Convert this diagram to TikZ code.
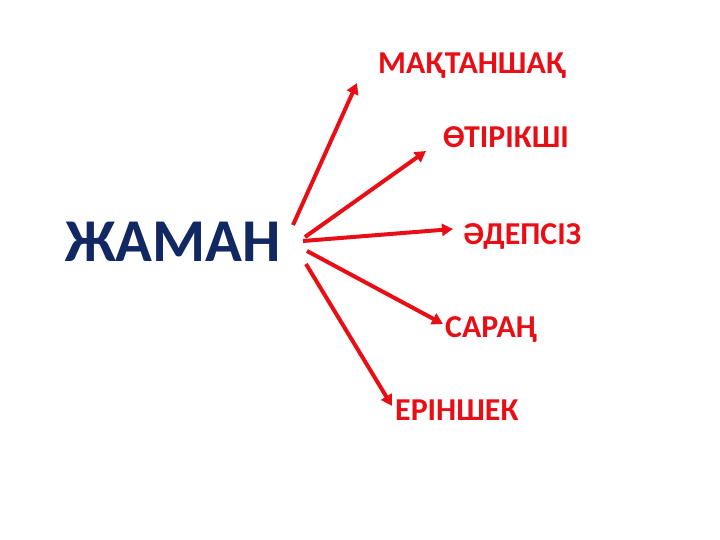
\documentclass[tikz,border=0pt]{standalone}
\usepackage{fontspec}
\setmainfont{Carlito}
\usetikzlibrary{arrows.meta}
\definecolor{zhred}{RGB}{232,14,22}
\definecolor{zhblue}{RGB}{18,40,98}
\tikzset{
  soz/.style={anchor=base west, inner sep=0pt, text=zhred,
    font=\bfseries\fontsize{32}{32}\selectfont},
  nusqa/.style={-{Triangle[length=11bp,width=12bp]}, line width=4bp, zhred}
}
\newcommand{\baga}[2]{
  \draw[nusqa] (#1)--(#2);
}
\begin{document}
\begin{tikzpicture}[x=1bp,y=-1bp]
  \useasboundingbox (0,0) rectangle (720,540);

  % Basty soz
  % =========
  \node[anchor=base west, inner sep=0pt, text=zhblue,
    font=\bfseries\fontsize{61}{61}\selectfont] (zhaman) at (65,262) {ЖАМАН};

  % Sozder
  % ======
  \node[soz] (maqtan) at (378,74) {МАҚТАНШАҚ};
  \node[soz] (otirik) at (443,148) {ӨТІРІКШІ};
  \node[soz] (adepsiz) at (463,245) {ӘДЕПСІЗ};
  \node[soz] (saran) at (445,337) {САРАҢ};
  \node[soz] (erinshek) at (395,420) {ЕРІНШЕК};

  % Nusqalar
  % ========
  \coordinate (b1) at (293,225);
  \coordinate (b2) at (305,237);
  \coordinate (b3) at (303,241);
  \coordinate (b4) at (307,251);
  \coordinate (b5) at (306,264);

  \coordinate (u1) at (357,83);
  \coordinate (u2) at (426,151);
  \coordinate (u3) at (453,229);
  \coordinate (u4) at (443,324);
  \coordinate (u5) at (392,406);

  \foreach \i in {1, ..., 5}
  \baga{b\i}{u\i};

\end{tikzpicture}
\end{document}
